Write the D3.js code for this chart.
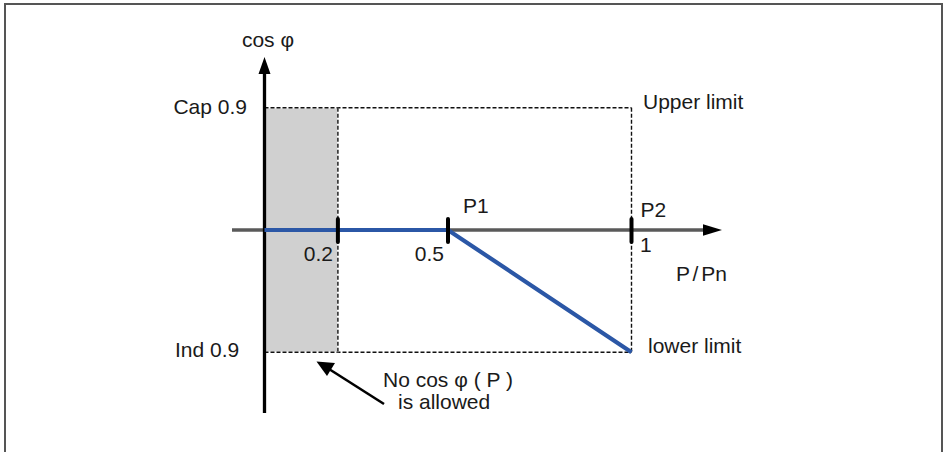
<!DOCTYPE html>
<html><head><meta charset="utf-8">
<script src="https://cdn.jsdelivr.net/npm/d3@7"></script>
<style>
html,body{margin:0;padding:0;background:#fff;}
svg{display:block;font-family:"Liberation Sans",Arial,sans-serif;}
</style></head>
<body>
<svg id="c" width="945" height="452"></svg>
<script>
// ---- data ----
const xTicks = [0.2, 0.5, 1];
const xTickLabels = ["0.2", "0.5", "1"];
const curveP = [0, 0.5, 1];          // P/Pn
const curveQ = [0, 0, -0.1];         // cos φ offset (0 = cos φ 1, +0.1 = Cap 0.9, -0.1 = Ind 0.9)
const forbiddenP = [0, 0.2];
const limitQ = [0.1, -0.1];
const yLabels = ["Cap 0.9", "Ind 0.9"];
const pointLabels = ["P1", "P2"];
const pointP = [0.5, 1];

const svg = d3.select("#c");
const x = d3.scaleLinear().domain([0, 1]).range([264.5, 631.5]);
const y = d3.scaleLinear().domain([-0.1, 0.1]).range([352.3, 107.7]);
const y0 = y(0);

// frame
svg.append("rect").attr("x",5).attr("y",4).attr("width",937).attr("height",470)
  .attr("fill","none").attr("stroke","#555").attr("stroke-width",2);

// forbidden zone
svg.append("rect").attr("x",x(forbiddenP[0])).attr("y",y(limitQ[0]))
  .attr("width",x(forbiddenP[1])-x(forbiddenP[0])).attr("height",y(limitQ[1])-y(limitQ[0]))
  .attr("fill","#d0d0d0");

// dashed limits
const dash = "4,2";
const dl = (x1,y1,x2,y2,under)=>{
  if(under) svg.append("line").attr("x1",x1).attr("y1",y1).attr("x2",x2).attr("y2",y2)
    .attr("stroke","#fff").attr("stroke-width",1.4);
  svg.append("line").attr("x1",x1).attr("y1",y1).attr("x2",x2).attr("y2",y2)
    .attr("stroke","#111").attr("stroke-width",1.4).attr("stroke-dasharray",dash);
};
limitQ.forEach(q=>dl(x(0),y(q),x(1),y(q),true));
dl(x(forbiddenP[1]),y(limitQ[0]),x(forbiddenP[1]),y(limitQ[1]),true);
dl(x(1),y(limitQ[0]),x(1),y(limitQ[1]),false);

// x axis
svg.append("line").attr("x1",232).attr("y1",y0).attr("x2",706).attr("y2",y0)
  .attr("stroke","#5a5a5a").attr("stroke-width",3.3);
svg.append("path").attr("d",`M703,${y0-5.8}L722,${y0}L703,${y0+5.8}Z`).attr("fill","#000");

// y axis
svg.append("line").attr("x1",x(0)).attr("y1",413).attr("x2",x(0)).attr("y2",72)
  .attr("stroke","#000").attr("stroke-width",3.3);
svg.append("path").attr("d",`M${x(0)-6},74L${x(0)},57L${x(0)+6},74Z`).attr("fill","#000");

// curve
const line = d3.line().x(d=>x(d[0])).y(d=>y(d[1]));
svg.append("path").datum(curveP.map((p,i)=>[p,curveQ[i]])).attr("d",line)
  .attr("fill","none").attr("stroke","#2b57a6").attr("stroke-width",4.2).attr("stroke-linejoin","miter");

// ticks
svg.selectAll(".tk").data(xTicks).enter().append("line")
  .attr("x1",d=>x(d)).attr("x2",d=>x(d)).attr("y1",219).attr("y2",242)
  .attr("stroke","#000").attr("stroke-width",4).attr("stroke-linecap","round");

const txt = (s,xx,yy,anchor)=>svg.append("text").attr("x",xx).attr("y",yy)
  .attr("text-anchor",anchor||"start").attr("font-size",21).attr("fill","#1a1a1a").text(s);

// tick labels
txt(xTickLabels[0], 333, 261, "end");
txt(xTickLabels[1], 444, 261, "end");
txt(xTickLabels[2], 640, 252, "start");
// point labels
txt(pointLabels[0], x(pointP[0])+15, 213);
txt(pointLabels[1], x(pointP[1])+9, 217);
// axis titles
txt("cos φ", 268, 47, "middle");
txt("P / Pn", 676, 281).attr("word-spacing","-3");
// y labels
txt(yLabels[0], 247, 114, "end");
txt(yLabels[1], 175, 357, "start");
// limits
txt("Upper limit", 643, 108.5);
txt("lower limit", 648, 353);
// annotation
txt("No cos φ ( P )", 383, 387);
txt("is allowed", 398, 409);
// annotation arrow
svg.append("line").attr("x1",384).attr("y1",404).attr("x2",329).attr("y2",369)
  .attr("stroke","#000").attr("stroke-width",2.6);
svg.append("path").attr("d","M316.5,361.5L335,363L327,376Z").attr("fill","#000");
</script>
</body></html>
